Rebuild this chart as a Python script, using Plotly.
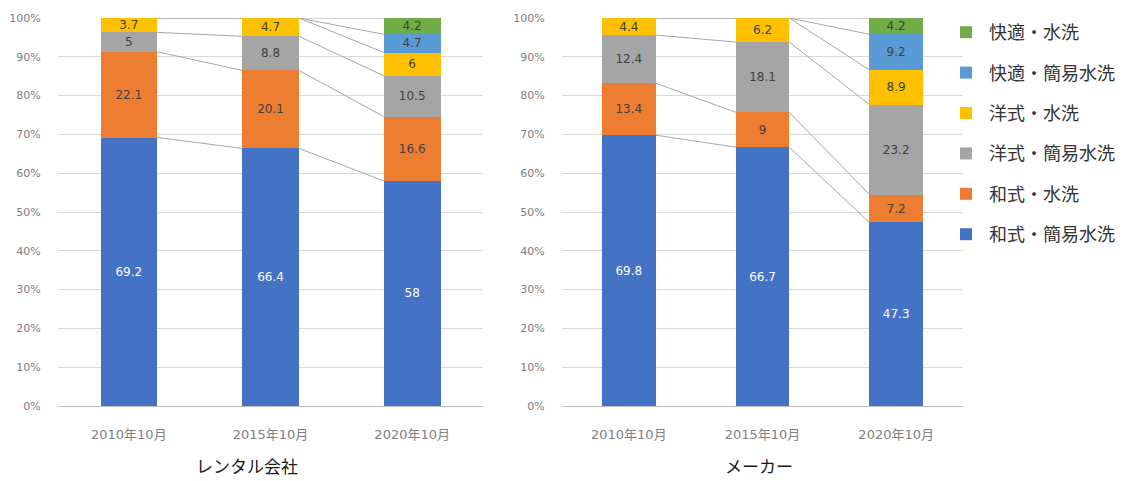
import plotly.graph_objects as go

categories = ["2010年10月", "2015年10月", "2020年10月"]
series_names = ["和式・簡易水洗", "和式・水洗", "洋式・簡易水洗", "洋式・水洗", "快適・簡易水洗", "快適・水洗"]
colors = ["#4472C4", "#ED7D31", "#A5A5A5", "#FFC000", "#5B9BD5", "#70AD47"]
label_colors = ["#FFFFFF", "#404040", "#404040", "#404040", "#404040", "#404040"]

# rental companies (レンタル会社)
rental_wa_kani = [69.2, 66.4, 58]
rental_wa_sui = [22.1, 20.1, 16.6]
rental_yo_kani = [5, 8.8, 10.5]
rental_yo_sui = [3.7, 4.7, 6]
rental_kai_kani = [0, 0, 4.7]
rental_kai_sui = [0, 0, 4.2]

# makers (メーカー)
maker_wa_kani = [69.8, 66.7, 47.3]
maker_wa_sui = [13.4, 9, 7.2]
maker_yo_kani = [12.4, 18.1, 23.2]
maker_yo_sui = [4.4, 6.2, 8.9]
maker_kai_kani = [0, 0, 9.2]
maker_kai_sui = [0, 0, 4.2]

panel_titles = ["レンタル会社", "メーカー"]
ytick_vals = [0, 10, 20, 30, 40, 50, 60, 70, 80, 90, 100]
ytick_text = ["0%", "10%", "20%", "30%", "40%", "50%", "60%", "70%", "80%", "90%", "100%"]

rental = [rental_wa_kani, rental_wa_sui, rental_yo_kani, rental_yo_sui, rental_kai_kani, rental_kai_sui]
maker = [maker_wa_kani, maker_wa_sui, maker_yo_kani, maker_yo_sui, maker_kai_kani, maker_kai_sui]

JP = "Noto Sans CJK JP"
NUM = "DejaVu Sans, Noto Sans CJK JP"
BAR_W = 0.4
xpos = list(range(len(categories)))

fig = go.Figure()

for p, (data, xa, ya) in enumerate([(rental, "x", "y"), (maker, "x2", "y2")]):
    for s, vals in enumerate(data):
        fig.add_trace(go.Bar(
            x=xpos, y=vals, width=BAR_W, name=series_names[s],
            marker=dict(color=colors[s], line=dict(width=0)),
            text=[(f"{v:g}" if v else "") for v in vals],
            textposition="inside", insidetextanchor="middle", textangle=0,
            constraintext="none",
            textfont=dict(family=NUM, size=12, color=label_colors[s]),
            xaxis=xa, yaxis=ya, showlegend=(p == 0),
            legendgroup=series_names[s], legendrank=100 - s, hoverinfo="skip",
        ))
    # series connector lines
    lx, ly = [], []
    for i in range(len(categories) - 1):
        c0 = 0.0
        c1 = 0.0
        for s, vals in enumerate(data):
            c0 += vals[i]
            c1 += vals[i + 1]
            lx += [i + BAR_W / 2, i + 1 - BAR_W / 2, None]
            ly += [c0, c1, None]
    fig.add_trace(go.Scatter(x=lx, y=ly, mode="lines", line=dict(color="#A6A6A6", width=1),
                             xaxis=xa, yaxis=ya, showlegend=False, hoverinfo="skip"))

xaxis_common = dict(
    range=[-0.5, 2.5], tickvals=xpos, ticktext=categories, showgrid=False, zeroline=False,
    ticks="outside", ticklen=16, tickcolor="rgba(0,0,0,0)", showline=False, automargin=False,
    tickfont=dict(family=NUM, size=13, color="#808080"), fixedrange=True,
)
yaxis_common = dict(
    range=[0, 100], tickvals=ytick_vals, ticktext=ytick_text, showgrid=True,
    gridcolor="#D9D9D9", gridwidth=1, zeroline=True, zerolinecolor="#BFBFBF", zerolinewidth=1,
    ticks="outside", ticklen=14, tickcolor="rgba(0,0,0,0)", automargin=False,
    tickfont=dict(family=NUM, size=11, color="#808080"), fixedrange=True,
)

y_dom = [1 - 406 / 481, 1 - 18 / 481]
fig.update_layout(
    width=1134, height=481, margin=dict(l=0, r=0, t=0, b=0, autoexpand=False),
    paper_bgcolor="white", plot_bgcolor="white",
    barmode="stack",
    xaxis=dict(domain=[58 / 1134, 483 / 1134], anchor="y", **xaxis_common),
    yaxis=dict(domain=y_dom, anchor="x", **yaxis_common),
    xaxis2=dict(domain=[562 / 1134, 963 / 1134], anchor="y2", **xaxis_common),
    yaxis2=dict(domain=y_dom, anchor="x2", **yaxis_common),
    legend=dict(x=943 / 1134, xanchor="left", y=1 - 14 / 481, yanchor="top",
                tracegroupgap=14, itemwidth=36,
                font=dict(family=JP, size=18, color="#333333"),
                bgcolor="rgba(0,0,0,0)", itemclick=False),
    showlegend=True,
    annotations=[
        dict(text=panel_titles[0], x=247 / 1134, y=1 - 465 / 481, xref="paper", yref="paper",
             xanchor="center", yanchor="middle",
             showarrow=False, font=dict(family=JP, size=17, color="#1A1A1A")),
        dict(text=panel_titles[1], x=759 / 1134, y=1 - 465 / 481, xref="paper", yref="paper",
             xanchor="center", yanchor="middle",
             showarrow=False, font=dict(family=JP, size=17, color="#1A1A1A")),
    ],
)

fig.write_html("out.html")
